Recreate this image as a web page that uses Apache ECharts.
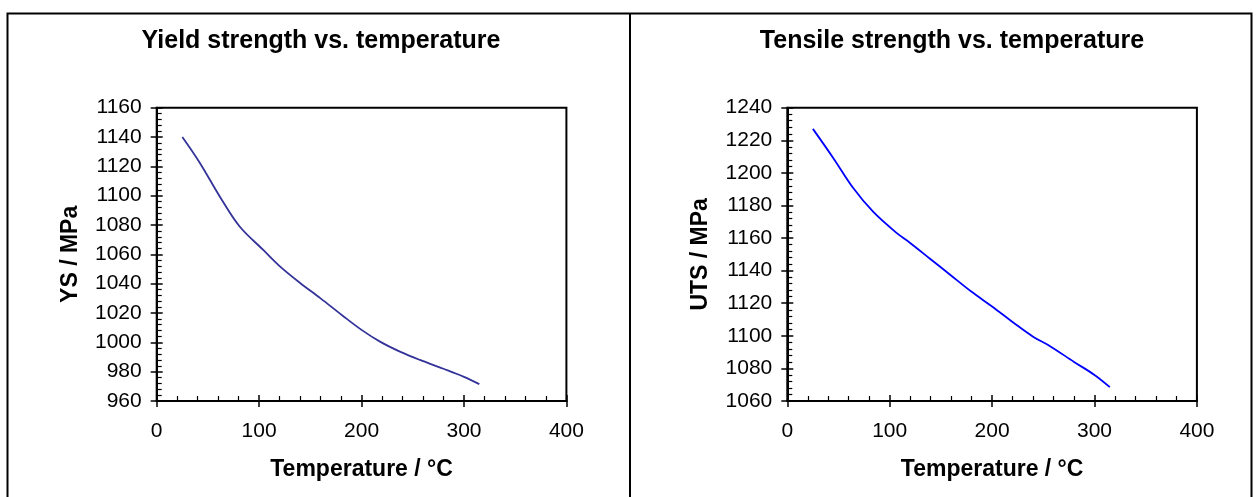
<!DOCTYPE html>
<html>
<head>
<meta charset="utf-8">
<script src="https://cdn.jsdelivr.net/npm/echarts@6/dist/echarts.min.js"></script>
<style>
html,body{margin:0;padding:0;background:#fff;}
#c{width:1259px;height:497px;}
</style>
</head>
<body>
<div id="c"></div>
<script>
// ---- data ----
const titleYS = 'Yield strength vs. temperature';
const titleUTS = 'Tensile strength vs. temperature';
const xName = 'Temperature / °C';
const yNameYS = 'YS / MPa';
const yNameUTS = 'UTS / MPa';

const tempYS = [25, 42, 62, 81, 104, 120, 140, 160, 181, 200, 218, 238, 257, 280, 300, 315];
const valYS  = [1140, 1122.5, 1099, 1079, 1063, 1052, 1040.5, 1030, 1018.5, 1008.5, 1000.5, 993.5, 988, 982, 976.5, 971.5];

const tempUTS = [25, 45, 64, 84, 107, 120, 139, 159, 180, 200, 221, 240, 257, 280, 300, 315];
const valUTS  = [1227, 1209, 1191, 1176, 1163, 1157, 1147.5, 1137.5, 1127, 1118, 1108, 1099.5, 1093.5, 1084, 1076, 1068.5];

const xRange = [0, 400, 100];
const yRangeYS = [960, 1160, 20];
const yRangeUTS = [1060, 1240, 20];

// ---- chart ----
const FONT = '"Liberation Sans", Arial, sans-serif';
const chart = echarts.init(document.getElementById('c'), null, {renderer: 'canvas'});

function pair(xs, ys) { return xs.map((x, i) => [x, ys[i]]); }
const plain = v => String(v);

function xAxes(gridIndex) {
  const base = {type: 'value', gridIndex, min: xRange[0], max: xRange[1], interval: xRange[2], splitLine: {show: false}};
  return [
    Object.assign({}, base, {
      position: 'bottom',
      name: xName, nameLocation: 'middle', nameGap: 57,
      nameTextStyle: {fontFamily: FONT, fontSize: 23, fontWeight: 'bold', color: '#000'},
      axisLine: {show: true, onZero: false, lineStyle: {color: '#000', width: 2}},
      axisTick: {show: true, inside: false, length: 6, lineStyle: {color: '#000', width: 1.5}},
      axisLabel: {fontFamily: FONT, fontSize: 21, color: '#000', margin: 20, formatter: plain},
      minorTick: {show: false}
    }),
    Object.assign({}, base, {
      position: 'bottom',
      axisLine: {show: false, onZero: false},
      axisTick: {show: true, inside: true, length: 6, lineStyle: {color: '#000', width: 1.5}},
      axisLabel: {show: false},
      minorTick: {show: true, splitNumber: 5, length: 5, lineStyle: {color: '#000', width: 1.2}}
    })
  ];
}

function yAxes(gridIndex, r, nm) {
  const base = {type: 'value', gridIndex, min: r[0], max: r[1], interval: r[2], splitLine: {show: false}};
  return [
    Object.assign({}, base, {
      position: 'left',
      name: nm, nameLocation: 'middle', nameGap: 75, nameRotate: 90,
      nameTextStyle: {fontFamily: FONT, fontSize: 23, fontWeight: 'bold', color: '#000'},
      axisLine: {show: true, onZero: false, lineStyle: {color: '#000', width: 2}},
      axisTick: {show: true, inside: false, length: 6, lineStyle: {color: '#000', width: 1.5}},
      axisLabel: {fontFamily: FONT, fontSize: 21, color: '#000', margin: 15, formatter: plain},
      minorTick: {show: false}
    }),
    Object.assign({}, base, {
      position: 'left',
      axisLine: {show: false, onZero: false},
      axisTick: {show: true, inside: true, length: 6, lineStyle: {color: '#000', width: 1.5}},
      axisLabel: {show: false},
      minorTick: {show: true, splitNumber: 5, length: 5, lineStyle: {color: '#000', width: 1.2}}
    })
  ];
}

const option = {
  backgroundColor: '#fff',
  animation: false,
  title: [
    {text: titleYS, left: 316, top: 24, textAlign: 'center',
     textStyle: {fontFamily: FONT, fontSize: 25, fontWeight: 'bold', color: '#000'}},
    {text: titleUTS, left: 947, top: 24, textAlign: 'center',
     textStyle: {fontFamily: FONT, fontSize: 25, fontWeight: 'bold', color: '#000'}}
  ],
  graphic: [
    {type: 'rect', silent: true, z: 100,
     shape: {x: 7.5, y: 13.5, width: 1244, height: 500},
     style: {fill: 'none', stroke: '#000', lineWidth: 2}},
    {type: 'line', silent: true, z: 100,
     shape: {x1: 630, y1: 13.5, x2: 630, y2: 497},
     style: {stroke: '#000', lineWidth: 2}}
  ],
  grid: [
    {left: 156.7, top: 107.7, width: 409.7, height: 293.3, show: true, borderColor: '#000', borderWidth: 2, backgroundColor: 'transparent'},
    {left: 787.3, top: 107.7, width: 409.6, height: 293.3, show: true, borderColor: '#000', borderWidth: 2, backgroundColor: 'transparent'}
  ],
  xAxis: [...xAxes(0), ...xAxes(1)],
  yAxis: [...yAxes(0, yRangeYS, yNameYS), ...yAxes(1, yRangeUTS, yNameUTS)],
  series: [
    {type: 'line', xAxisIndex: 0, yAxisIndex: 0, data: pair(tempYS, valYS),
     showSymbol: false, symbol: 'none', smooth: 0.35,
     lineStyle: {color: '#333399', width: 1.8}},
    {type: 'line', xAxisIndex: 2, yAxisIndex: 2, data: pair(tempUTS, valUTS),
     showSymbol: false, symbol: 'none', smooth: 0.35,
     lineStyle: {color: '#0000ff', width: 1.8}}
  ]
};
chart.setOption(option);
</script>
</body>
</html>
